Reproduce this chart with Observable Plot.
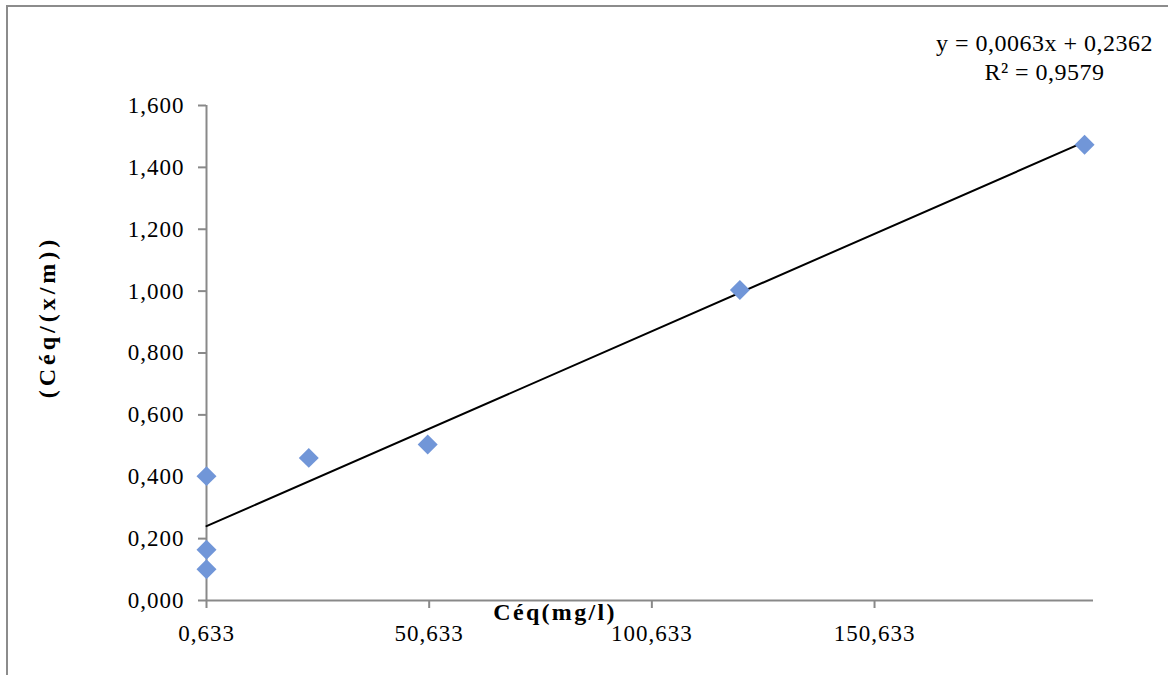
<!DOCTYPE html>
<html>
<head>
<meta charset="utf-8">
<script src="https://cdn.jsdelivr.net/npm/d3@7"></script>
<script src="https://cdn.jsdelivr.net/npm/@observablehq/plot@0.6"></script>
<style>
  html, body { margin: 0; padding: 0; background: #fff; }
  #wrap { position: relative; width: 1168px; height: 675px; overflow: hidden; }
  #border { position: absolute; left: 6px; top: 5px; right: -10px; bottom: -10px;
            border-left: 2px solid #8c8c8c; border-top: 2px solid #8c8c8c; }
  #chart { position: absolute; left: 0; top: 0; }
  #chart g[aria-label="x-axis tick label"] text,
  #chart g[aria-label="y-axis tick label"] text { letter-spacing: 1px; }
</style>
</head>
<body>
<div id="wrap"><div id="border"></div><div id="chart"></div></div>
<script>
// Measured equilibrium concentrations and Céq/(x/m) ratios
const ceq   = [0.633, 0.633, 0.633, 23.6, 50.3, 120.4, 197.8];
const ratio = [0.101, 0.164, 0.402, 0.461, 0.504, 1.004, 1.473];

// Axis ticks
const xTicks = [0.633, 50.633, 100.633, 150.633];
const yTicks = [0, 0.2, 0.4, 0.6, 0.8, 1.0, 1.2, 1.4, 1.6];

// Linear trendline as reported
const slope = 0.0063;
const intercept = 0.2362;
const equationLines = ["y = 0,0063x + 0,2362", "R² = 0,9579"];

const xLabel = "Céq(mg/l)";
const yLabel = "(Céq/(x/m))";

const points = ceq.map((c, i) => ({c, r: ratio[i]}));
const xMin = d3.min(ceq), xMax = d3.max(ceq);
const trend = [xMin, xMax].map(c => ({c, r: slope * c + intercept}));

const fmt = v => v.toFixed(3).replace(".", ",");
const axisGrey = "#898989";

const chart = Plot.plot({
  width: 1168,
  height: 675,
  marginLeft: 206,
  marginRight: 75,
  marginTop: 105,
  marginBottom: 75,
  style: {fontFamily: "'Liberation Serif', serif", fontSize: "23px", color: "#000", background: "transparent"},
  x: {domain: [0.633, 199.8]},
  y: {domain: [0, 1.6]},
  marks: [
    Plot.axisX({ticks: xTicks, tickSize: 8, tickPadding: 16, tickFormat: fmt, stroke: axisGrey, strokeWidth: 2, fill: "#000", fontSize: 23, label: null}),
    Plot.axisY({ticks: yTicks, tickSize: 8, tickPadding: 14, tickFormat: fmt, stroke: axisGrey, strokeWidth: 2, fill: "#000", fontSize: 23, label: null}),
    Plot.ruleY([0], {stroke: axisGrey, strokeWidth: 2}),
    Plot.ruleX([0.633], {y1: 0, y2: 1.6, stroke: axisGrey, strokeWidth: 2}),
    Plot.line(trend, {x: "c", y: "r", stroke: "#000", strokeWidth: 2}),
    Plot.dot(points, {x: "c", y: "r", symbol: "diamond2", r: 9, fill: "#7196d8", stroke: "none"}),
    Plot.text([equationLines[0]], {frameAnchor: "top-right", dx: -49, dy: -62, textAnchor: "middle", lineAnchor: "middle", fontSize: 24, fill: "#000"}),
    Plot.text([equationLines[1]], {frameAnchor: "top-right", dx: -49, dy: -33, textAnchor: "middle", lineAnchor: "middle", fontSize: 24, fill: "#000"}),
    Plot.text([xLabel], {frameAnchor: "bottom", dx: -95, dy: 12, textAnchor: "middle", lineAnchor: "middle", fontSize: 24, fontWeight: "bold", fill: "#000"}),
    Plot.text([yLabel], {frameAnchor: "left", dx: -159, dy: -36, rotate: -90, textAnchor: "middle", lineAnchor: "middle", fontSize: 24, fontWeight: "bold", fill: "#000"})
  ]
});

// Wider letter spacing for the titles and the trend equation
const spacing = new Map([[xLabel, "2.3px"], [yLabel, "4px"], [equationLines[0], "0.5px"], [equationLines[1], "0.5px"]]);
d3.select(chart).selectAll("text")
  .filter(function () { return spacing.has(this.textContent); })
  .style("letter-spacing", function () { return spacing.get(this.textContent); });

document.getElementById("chart").appendChild(chart);
</script>
</body>
</html>
